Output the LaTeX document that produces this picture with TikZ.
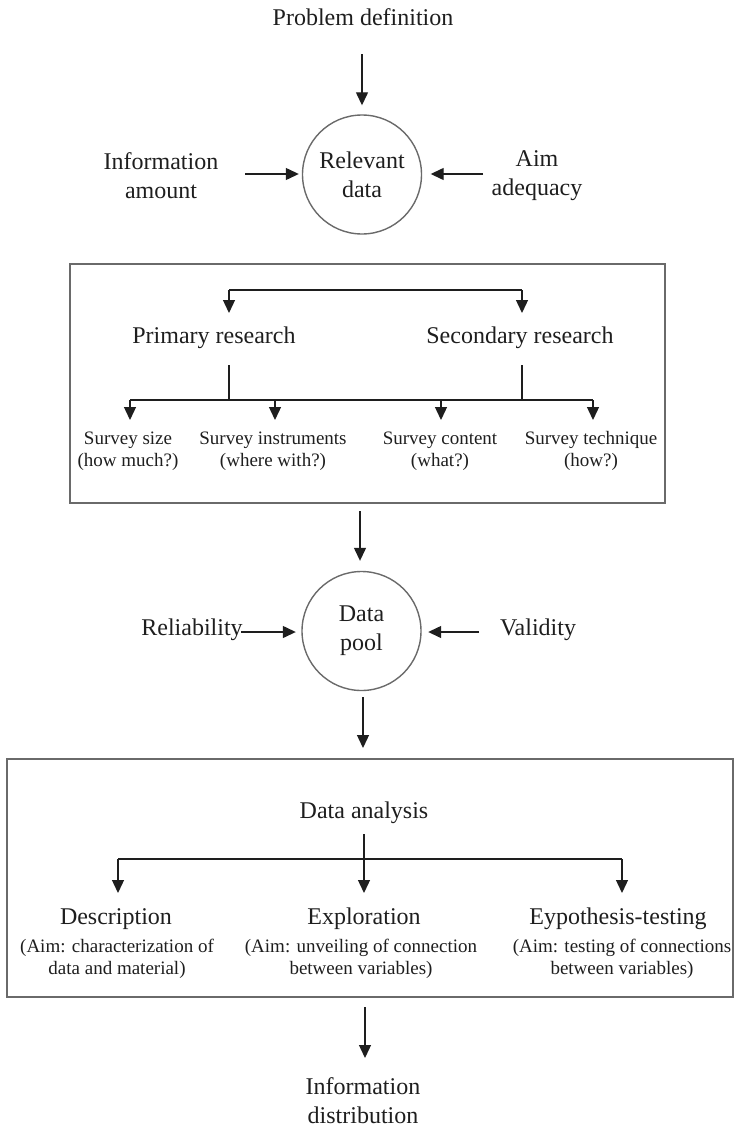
\documentclass[tikz,border=0pt]{standalone}
\usepackage{fontspec}
\setmainfont{Liberation Serif}
\usetikzlibrary{arrows.meta}
\definecolor{ink}{HTML}{1E1E1E}
\definecolor{frame}{HTML}{6A6A6A}
\begin{document}
\begin{tikzpicture}[x=1pt,y=-1pt,
  big/.style={font=\fontsize{24}{29}\selectfont, text=ink, align=center, inner sep=0pt},
  small/.style={font=\fontsize{19}{22}\selectfont, text=ink, align=center, inner sep=0pt},
  arr/.style={-{Triangle[length=13pt,width=12pt]}, line width=1.3pt, draw=ink},
  link/.style={line width=1.3pt, draw=ink},
  ring/.style={circle, draw=frame, line width=1.4pt, minimum size=119pt, inner sep=0pt,
    font=\fontsize{24}{29}\selectfont, text=ink, align=center},
  panel/.style={draw=frame, line width=2pt, inner sep=0pt}]
\useasboundingbox (0,0) rectangle (735,1127);

% --- relevant data ---
\node[big] (prob) at (363,17) {Problem definition};
\node[ring] (rel) at (362,174.5) {Relevant\\data};
\node[big] (info) at (161,175.5) {Information\\amount};
\node[big] (aim) at (537,175.5) {Aim\\adequacy};
\coordinate (a1) at (362,54);
\draw[arr, shorten >=9pt] (a1) -- (a1 |- rel.north);
\coordinate (il) at (245,174);
\draw[arr, shorten >=3pt] (il) -- (il -| rel.west);
\coordinate (ar) at (483,174);
\draw[arr, shorten >=8.5pt] (ar) -- (ar -| rel.east);

% --- research panel ---
\node[panel, minimum width=595pt, minimum height=239pt] (res) at (367.5,383.5) {};
\node[big] (prim) at (214,338) {Primary research};
\node[big] (sec) at (520,338) {Secondary research};
\coordinate (bl) at (229,290);
\coordinate (br) at (522,290);
\draw[link] (bl) -- (br);
\draw[arr] (bl) -- ++(0,23);
\draw[arr] (br) -- ++(0,23);
\coordinate (hl) at (130,400);
\coordinate (hr) at (593,400);
\draw[link] (229,365) -- (229,400);
\draw[link] (522,365) -- (522,400);
\draw[link] (hl) -- (hr);
\node[small] (size) at (128,451) {Survey size\\(how much?)};
\node[small] (instr) at (273,451) {Survey instruments\\(where with?)};
\node[small] (cont) at (440,451) {Survey content\\(what?)};
\node[small] (tech) at (591,451) {Survey technique\\(how?)};
\foreach \x in {130,275,441,593} \draw[arr] (\x,400) -- (\x,420);

% --- data pool ---
\coordinate (a2) at (360,511);
\node[ring] (pool) at (361.5,631) {Data\\pool};
\draw[arr, shorten >=10pt] (a2) -- (a2 |- pool.north);
\node[big] (relia) at (192,630) {Reliability};
\node[big] (valid) at (538,630) {Validity};
\coordinate (rl) at (241,632);
\draw[arr, shorten >=5.5pt] (rl) -- (rl -| pool.west);
\coordinate (vr) at (479,632);
\draw[arr, shorten >=6.5pt] (vr) -- (vr -| pool.east);

% --- analysis panel ---
\coordinate (a3) at (363,697);
\draw[arr] (a3) -- (363,748);
\node[panel, minimum width=726pt, minimum height=238pt] (ana) at (370,878) {};
\node[big] (dan) at (364,813) {Data analysis};
\coordinate (dl) at (118,859);
\coordinate (dr) at (622,859);
\draw[link] (dl) -- (dr);
\draw[arr] (364,834) -- (364,893);
\draw[arr] (dl) -- ++(0,34);
\draw[arr] (dr) -- ++(0,34);
\node[big] (desc) at (116,919) {Description};
\node[small] (descaim) at (117,959) {(Aim: characterization of\\data and material)};
\node[big] (expl) at (364,919) {Exploration};
\node[small] (explaim) at (361,959) {(Aim: unveiling of connection\\between variables)};
\node[big] (hyp) at (618,919) {Eypothesis-testing};
\node[small] (hypaim) at (622,959) {(Aim: testing of connections\\between variables)};

% --- output ---
\node[big] (dist) at (363,1101) {Information\\distribution};
\coordinate (a4) at (365,1007);
\draw[arr] (a4) -- (365,1058);
\end{tikzpicture}
\end{document}
